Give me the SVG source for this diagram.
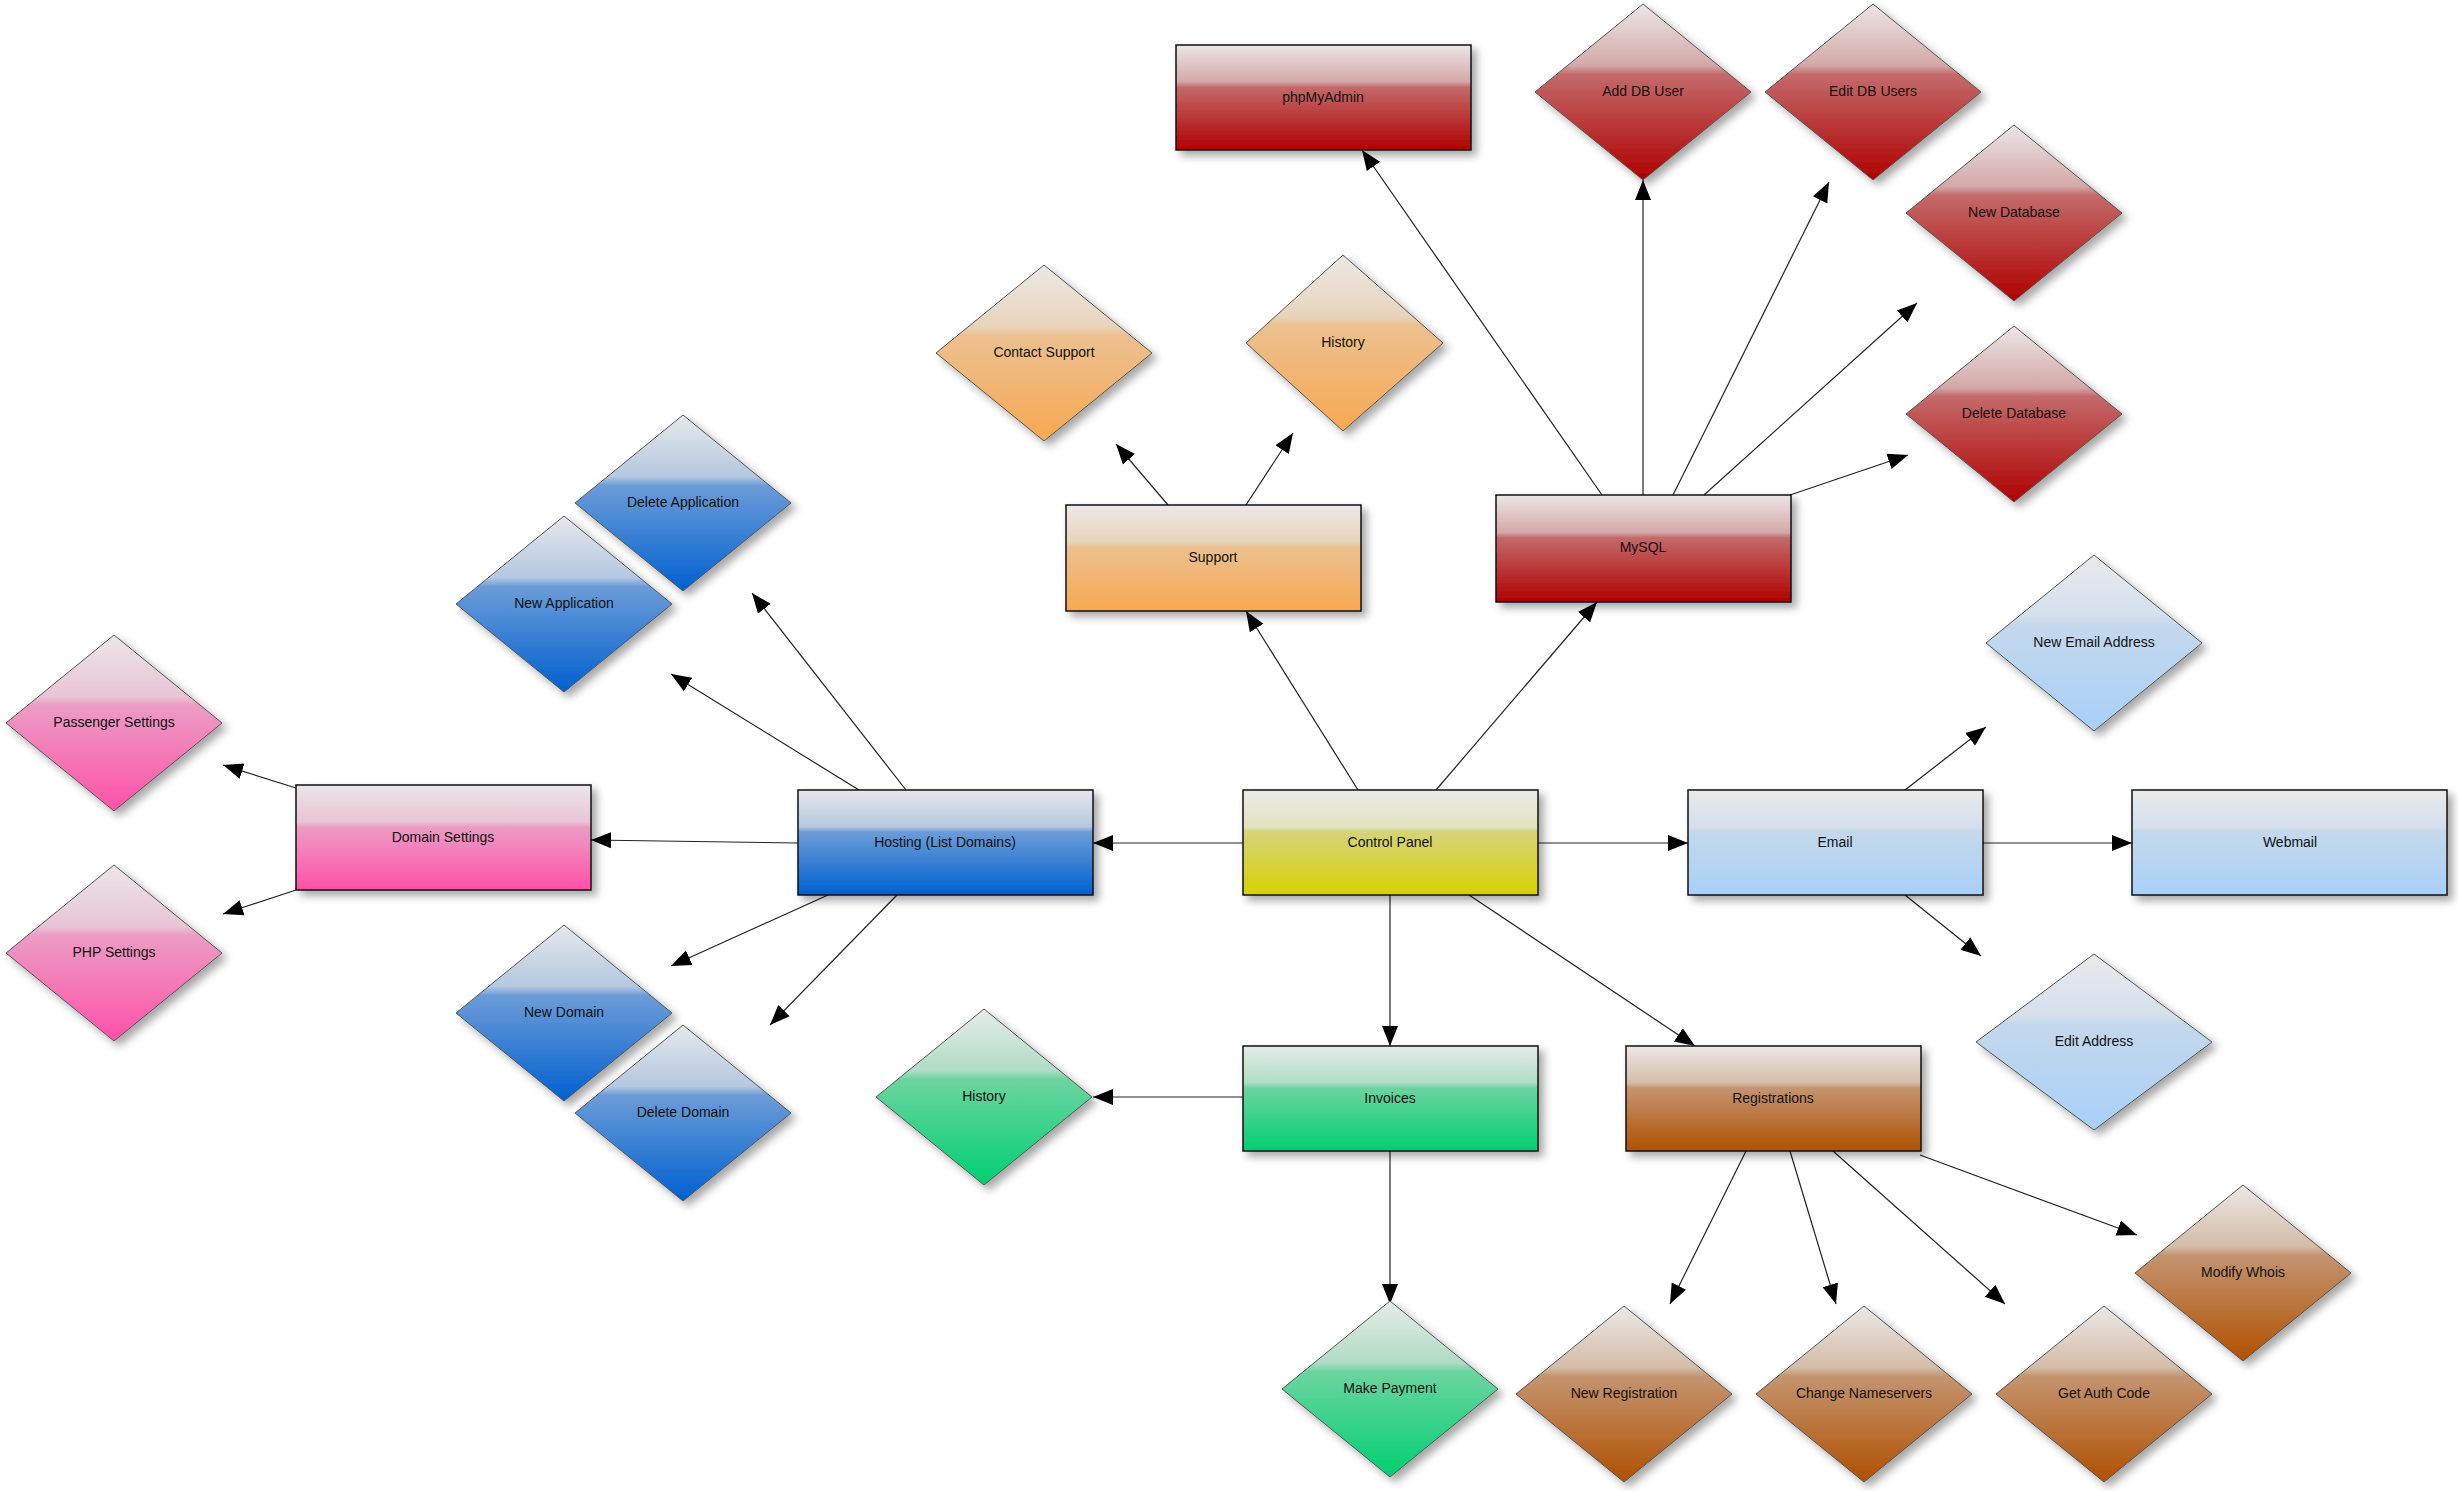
<svg xmlns="http://www.w3.org/2000/svg" width="2458" height="1491" viewBox="0 0 2458 1491">
<defs>
<filter id="sh" x="-20%" y="-20%" width="150%" height="150%"><feDropShadow dx="5" dy="5" stdDeviation="4" flood-color="#000" flood-opacity="0.35"/></filter>
<marker id="ah" viewBox="0 0 10 10" refX="10" refY="5" markerWidth="20" markerHeight="20" markerUnits="userSpaceOnUse" orient="auto"><path d="M0,1 L10,5 L0,9 Z" fill="#000"/></marker>
<linearGradient id="gY" x1="0" y1="0" x2="0" y2="1"><stop offset="0" stop-color="#ebebe6"/><stop offset="0.35" stop-color="#e3e2c0"/><stop offset="0.4" stop-color="#d6d37a"/><stop offset="1" stop-color="#d6d200"/></linearGradient>
<linearGradient id="gL" x1="0" y1="0" x2="0" y2="1"><stop offset="0" stop-color="#e8eaec"/><stop offset="0.35" stop-color="#d4e0ec"/><stop offset="0.4" stop-color="#c4d8ec"/><stop offset="1" stop-color="#a8d0f8"/></linearGradient>
<linearGradient id="gB" x1="0" y1="0" x2="0" y2="1"><stop offset="0" stop-color="#e6e8ec"/><stop offset="0.35" stop-color="#b4c8e0"/><stop offset="0.4" stop-color="#6c9cd8"/><stop offset="1" stop-color="#0060d0"/></linearGradient>
<linearGradient id="gP" x1="0" y1="0" x2="0" y2="1"><stop offset="0" stop-color="#ece6e8"/><stop offset="0.35" stop-color="#e8c4d6"/><stop offset="0.4" stop-color="#ec9cc4"/><stop offset="1" stop-color="#ff50a8"/></linearGradient>
<linearGradient id="gO" x1="0" y1="0" x2="0" y2="1"><stop offset="0" stop-color="#ece8e4"/><stop offset="0.35" stop-color="#e8d4bc"/><stop offset="0.4" stop-color="#ecc090"/><stop offset="1" stop-color="#f8a850"/></linearGradient>
<linearGradient id="gR" x1="0" y1="0" x2="0" y2="1"><stop offset="0" stop-color="#ece6e6"/><stop offset="0.35" stop-color="#d4a8a8"/><stop offset="0.4" stop-color="#c46a6a"/><stop offset="1" stop-color="#b00000"/></linearGradient>
<linearGradient id="gG" x1="0" y1="0" x2="0" y2="1"><stop offset="0" stop-color="#e6ece8"/><stop offset="0.35" stop-color="#b0dcc4"/><stop offset="0.4" stop-color="#6cd4a0"/><stop offset="1" stop-color="#00d070"/></linearGradient>
<linearGradient id="gN" x1="0" y1="0" x2="0" y2="1"><stop offset="0" stop-color="#ece8e6"/><stop offset="0.35" stop-color="#d4bca8"/><stop offset="0.4" stop-color="#c49470"/><stop offset="1" stop-color="#b05000"/></linearGradient>
</defs>
<style>
.n{stroke:#111;stroke-width:1.5;filter:url(#sh)}
.d{stroke:#555;stroke-width:1}
text{font-family:"Liberation Sans",Arial,sans-serif;font-size:14px;fill:#111;text-anchor:middle;dominant-baseline:middle}
.e{stroke:#222;stroke-width:1.2;fill:none;marker-end:url(#ah)}
</style>
<g id="connectors">
<line class="e" x1="1538" y1="843" x2="1688" y2="843"/>
<line class="e" x1="1983" y1="843" x2="2132" y2="843"/>
<line class="e" x1="1243" y1="843" x2="1093" y2="843"/>
<line class="e" x1="798" y1="843" x2="591" y2="840"/>
<line class="e" x1="296" y1="788" x2="223" y2="765"/>
<line class="e" x1="296" y1="890" x2="223" y2="914"/>
<line class="e" x1="859" y1="790" x2="671" y2="674"/>
<line class="e" x1="906" y1="790" x2="752" y2="593"/>
<line class="e" x1="828" y1="895" x2="671" y2="966"/>
<line class="e" x1="897" y1="895" x2="770" y2="1025"/>
<line class="e" x1="1358" y1="790" x2="1246" y2="611"/>
<line class="e" x1="1436" y1="790" x2="1597" y2="602"/>
<line class="e" x1="1168" y1="505" x2="1116" y2="444"/>
<line class="e" x1="1246" y1="505" x2="1293" y2="433"/>
<line class="e" x1="1602" y1="495" x2="1362" y2="150"/>
<line class="e" x1="1643" y1="495" x2="1643" y2="180"/>
<line class="e" x1="1673" y1="495" x2="1829" y2="182"/>
<line class="e" x1="1704" y1="495" x2="1917" y2="303"/>
<line class="e" x1="1790" y1="495" x2="1908" y2="455"/>
<line class="e" x1="1905" y1="790" x2="1986" y2="727"/>
<line class="e" x1="1905" y1="895" x2="1981" y2="956"/>
<line class="e" x1="1390" y1="895" x2="1390" y2="1046"/>
<line class="e" x1="1469" y1="895" x2="1695" y2="1046"/>
<line class="e" x1="1243" y1="1097" x2="1093" y2="1097"/>
<line class="e" x1="1390" y1="1151" x2="1390" y2="1304"/>
<line class="e" x1="1746" y1="1151" x2="1670" y2="1304"/>
<line class="e" x1="1790" y1="1151" x2="1836" y2="1304"/>
<line class="e" x1="1833" y1="1151" x2="2005" y2="1304"/>
<line class="e" x1="1920" y1="1155" x2="2137" y2="1235"/>
</g>
<g id="control-panel"><rect class="n" x="1243" y="790" width="295" height="105" fill="url(#gY)"/><text x="1390" y="843">Control Panel</text></g>
<g id="email"><rect class="n" x="1688" y="790" width="295" height="105" fill="url(#gL)"/><text x="1835" y="843">Email</text></g>
<g id="webmail"><rect class="n" x="2132" y="790" width="315" height="105" fill="url(#gL)"/><text x="2290" y="843">Webmail</text></g>
<g id="hosting"><rect class="n" x="798" y="790" width="295" height="105" fill="url(#gB)"/><text x="945" y="843">Hosting (List Domains)</text></g>
<g id="domain-settings"><rect class="n" x="296" y="785" width="295" height="105" fill="url(#gP)"/><text x="443" y="838">Domain Settings</text></g>
<g id="support"><rect class="n" x="1066" y="505" width="295" height="106" fill="url(#gO)"/><text x="1213" y="558">Support</text></g>
<g id="mysql"><rect class="n" x="1496" y="495" width="295" height="107" fill="url(#gR)"/><text x="1643" y="548">MySQL</text></g>
<g id="phpmyadmin"><rect class="n" x="1176" y="45" width="295" height="105" fill="url(#gR)"/><text x="1323" y="98">phpMyAdmin</text></g>
<g id="invoices"><rect class="n" x="1243" y="1046" width="295" height="105" fill="url(#gG)"/><text x="1390" y="1099">Invoices</text></g>
<g id="registrations"><rect class="n" x="1626" y="1046" width="295" height="105" fill="url(#gN)"/><text x="1773" y="1099">Registrations</text></g>
<g id="add-db-user"><polygon class="d" filter="url(#sh)" points="1643,4 1751,92 1643,180 1535,92" fill="url(#gR)"/><text x="1643" y="92">Add DB User</text></g>
<g id="edit-db-users"><polygon class="d" filter="url(#sh)" points="1873,4 1981,92 1873,180 1765,92" fill="url(#gR)"/><text x="1873" y="92">Edit DB Users</text></g>
<g id="new-database"><polygon class="d" filter="url(#sh)" points="2014,125 2122,213 2014,301 1906,213" fill="url(#gR)"/><text x="2014" y="213">New Database</text></g>
<g id="delete-database"><polygon class="d" filter="url(#sh)" points="2014,326 2122,414 2014,502 1906,414" fill="url(#gR)"/><text x="2014" y="414">Delete Database</text></g>
<g id="contact-support"><polygon class="d" filter="url(#sh)" points="1044,265 1152,353 1044,441 936,353" fill="url(#gO)"/><text x="1044" y="353">Contact Support</text></g>
<g id="support-history"><polygon class="d" filter="url(#sh)" points="1343,255 1443,343 1343,431 1246,343" fill="url(#gO)"/><text x="1343" y="343">History</text></g>
<g id="delete-application"><polygon class="d" filter="url(#sh)" points="683,415 791,503 683,591 575,503" fill="url(#gB)"/><text x="683" y="503">Delete Application</text></g>
<g id="new-application"><polygon class="d" filter="url(#sh)" points="564,516 672,604 564,692 456,604" fill="url(#gB)"/><text x="564" y="604">New Application</text></g>
<g id="passenger-settings"><polygon class="d" filter="url(#sh)" points="114,635 222,723 114,811 6,723" fill="url(#gP)"/><text x="114" y="723">Passenger Settings</text></g>
<g id="php-settings"><polygon class="d" filter="url(#sh)" points="114,865 222,953 114,1041 6,953" fill="url(#gP)"/><text x="114" y="953">PHP Settings</text></g>
<g id="new-domain"><polygon class="d" filter="url(#sh)" points="564,925 672,1013 564,1101 456,1013" fill="url(#gB)"/><text x="564" y="1013">New Domain</text></g>
<g id="delete-domain"><polygon class="d" filter="url(#sh)" points="683,1025 791,1113 683,1201 575,1113" fill="url(#gB)"/><text x="683" y="1113">Delete Domain</text></g>
<g id="invoice-history"><polygon class="d" filter="url(#sh)" points="984,1009 1092,1097 984,1185 876,1097" fill="url(#gG)"/><text x="984" y="1097">History</text></g>
<g id="make-payment"><polygon class="d" filter="url(#sh)" points="1390,1301 1498,1389 1390,1477 1282,1389" fill="url(#gG)"/><text x="1390" y="1389">Make Payment</text></g>
<g id="new-registration"><polygon class="d" filter="url(#sh)" points="1624,1306 1732,1394 1624,1482 1516,1394" fill="url(#gN)"/><text x="1624" y="1394">New Registration</text></g>
<g id="change-nameservers"><polygon class="d" filter="url(#sh)" points="1864,1306 1972,1394 1864,1482 1756,1394" fill="url(#gN)"/><text x="1864" y="1394">Change Nameservers</text></g>
<g id="get-auth-code"><polygon class="d" filter="url(#sh)" points="2104,1306 2212,1394 2104,1482 1996,1394" fill="url(#gN)"/><text x="2104" y="1394">Get Auth Code</text></g>
<g id="modify-whois"><polygon class="d" filter="url(#sh)" points="2243,1185 2351,1273 2243,1361 2135,1273" fill="url(#gN)"/><text x="2243" y="1273">Modify Whois</text></g>
<g id="new-email-address"><polygon class="d" filter="url(#sh)" points="2094,555 2202,643 2094,731 1986,643" fill="url(#gL)"/><text x="2094" y="643">New Email Address</text></g>
<g id="edit-address"><polygon class="d" filter="url(#sh)" points="2094,954 2212,1042 2094,1130 1976,1042" fill="url(#gL)"/><text x="2094" y="1042">Edit Address</text></g>
</svg>
